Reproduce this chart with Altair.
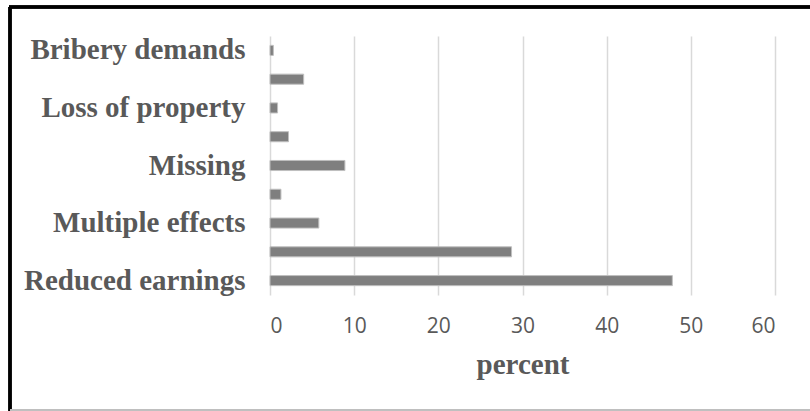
import altair as alt
import pandas as pd

# Effects, listed top to bottom as they appear on the axis
effects = [
    "Bribery demands",
    "Harassment",
    "Loss of property\u00a0",
    "Loss of time",
    "Missing",
    "Mobility restrictions",
    "Multiple effects",
    "No effect",
    "Reduced earnings",
]
percent = [0.4, 4.0, 0.9, 2.2, 8.9, 1.3, 5.8, 28.7, 47.8]

# Only every other category carries a visible axis label
labelled = ["Bribery demands", "Loss of property\u00a0", "Missing",
            "Multiple effects", "Reduced earnings"]

df = pd.DataFrame({"effect": effects, "percent": percent})

label_expr = "indexof([" + ",".join("'" + s + "'" for s in labelled) + \
    "], datum.value) >= 0 ? datum.value : ''"

W, H = 505, 259
LEFT, TOP = 270, 36

bars = alt.Chart(df).mark_bar(
    color="#7f7f7f", stroke="#bfbfbf", strokeWidth=1
).encode(
    x=alt.X(
        "percent:Q",
        scale=alt.Scale(domain=[0, 60], nice=False),
        axis=alt.Axis(
            values=[0, 10, 20, 30, 40, 50, 60],
            title="percent",
            grid=True,
            gridColor="#d9d9d9",
            gridWidth=1.5,
            domain=False,
            ticks=False,
            labelFont="Open Sans",
            labelFontSize=21,
            labelColor="#595959",
            labelPadding=20,
            titleFont="Liberation Serif",
            titleFontWeight="bold",
            titleFontSize=29,
            titleColor="#595959",
            titlePadding=14,
        ),
    ),
    y=alt.Y(
        "effect:N",
        sort=effects,
        scale=alt.Scale(paddingInner=0.65, paddingOuter=0.325),
        axis=alt.Axis(
            title=None,
            domain=False,
            ticks=False,
            grid=False,
            labelExpr=label_expr,
            labelFont="Liberation Serif",
            labelFontWeight="bold",
            labelFontSize=29,
            labelColor="#595959",
            labelPadding=25,
            labelLimit=400,
        ),
    ),
)

# Frame around the figure: dark left and top edges, light bottom edge
left_edge = alt.Chart(df).mark_rule(color="#000000", strokeWidth=2.5).encode(
    x=alt.value(10 - LEFT), y=alt.value(7 - TOP), y2=alt.value(411 - TOP)
)
top_edge = alt.Chart(df).mark_rule(color="#000000", strokeWidth=2.5).encode(
    x=alt.value(9 - LEFT), x2=alt.value(810 - LEFT), y=alt.value(7 - TOP)
)
bottom_edge = alt.Chart(df).mark_rule(color="#bfbfbf", strokeWidth=1).encode(
    x=alt.value(10 - LEFT), x2=alt.value(810 - LEFT), y=alt.value(410 - TOP)
)

chart = alt.layer(bars, left_edge, top_edge, bottom_edge).properties(
    width=W,
    height=H,
    autosize=alt.AutoSizeParams(type="none"),
    padding={"left": LEFT, "top": TOP, "right": 810 - LEFT - W, "bottom": 411 - TOP - H},
    background="white",
).configure_view(stroke=None)

chart.save("out.html", embed_options={"renderer": "svg", "actions": False})
